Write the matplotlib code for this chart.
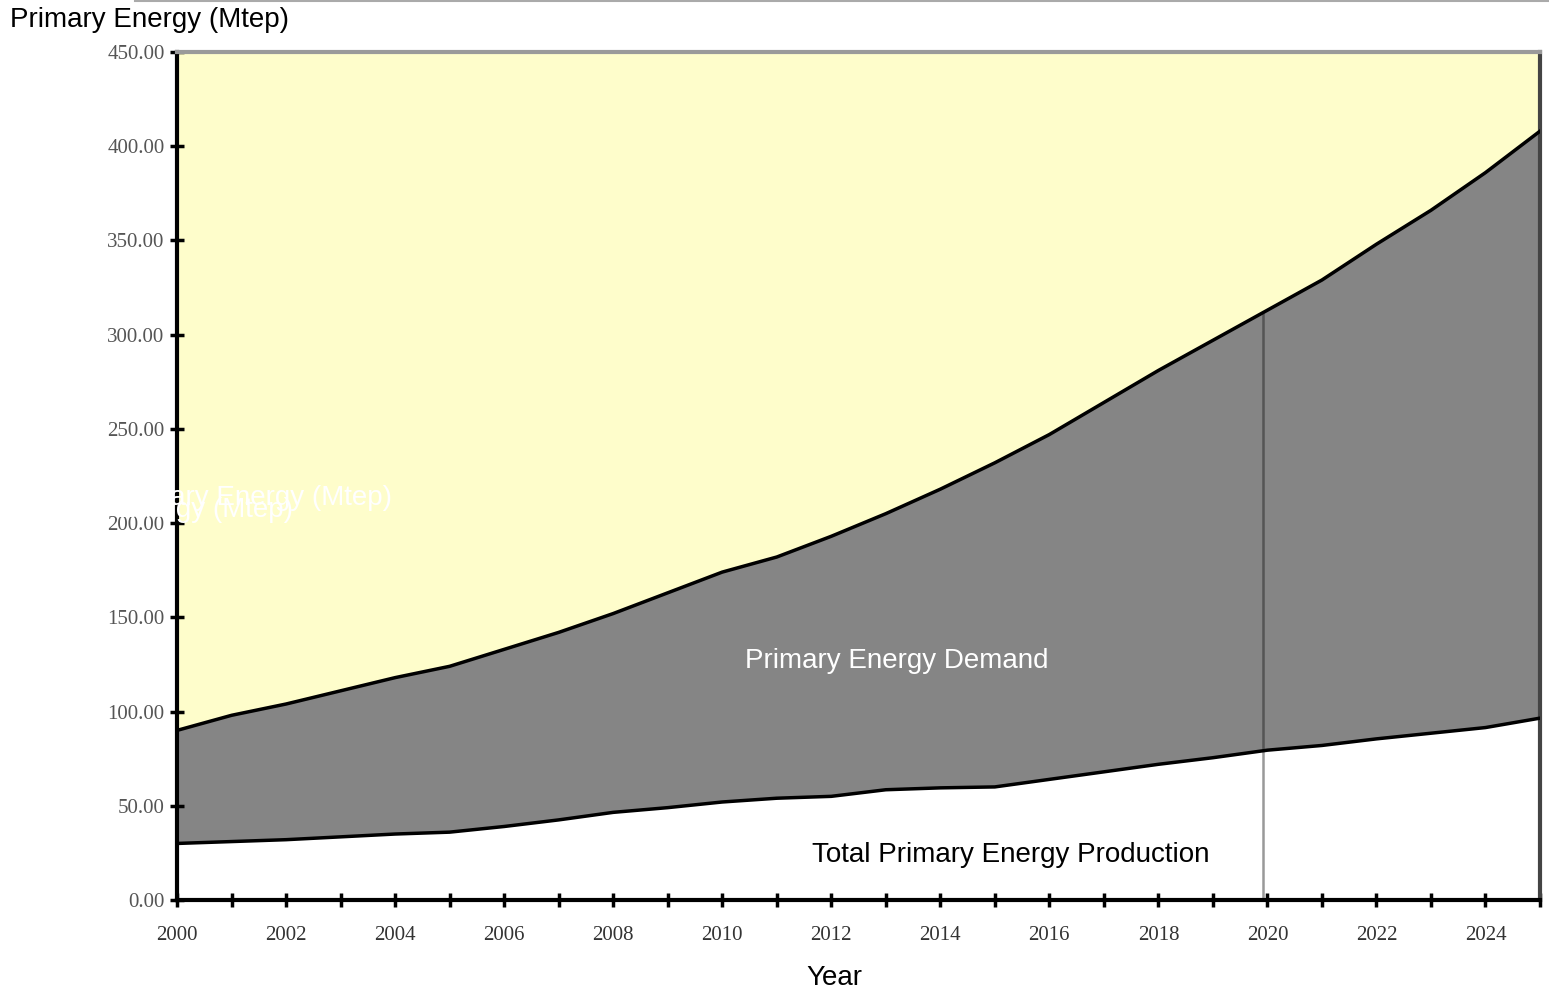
import numpy as np
import matplotlib.pyplot as plt
from matplotlib.lines import Line2D

# Values (Mtep)
years = list(range(2000, 2026))
demand = [90, 98, 104, 111, 118, 124, 133, 142, 152, 163,
          174, 182, 193, 205, 218, 232, 247, 264, 281, 297,
          313, 329, 348, 366, 386, 408]
production = [30, 31, 32, 33.5, 35, 36, 39, 42.5, 46.5, 49,
              52, 54, 55, 58.5, 59.5, 60, 64, 68, 72, 75.5,
              79.5, 82, 85.5, 88.5, 91.5, 96.5]
y_ticks = [0, 50, 100, 150, 200, 250, 300, 350, 400, 450]
x_labels = list(range(2000, 2026, 2))
split_year = 2019.92

YELLOW = "#FEFDCB"
GRAY = "#858585"
SANS = "Liberation Sans"

fig = plt.figure(figsize=(15.49, 9.96), dpi=100)
ax = fig.add_axes([0.1143, 0.0964, 0.8799, 0.8514])

x = np.array(years)
ax.set_facecolor(YELLOW)
ax.fill_between(x, production, demand, color=GRAY, lw=0, zorder=1)
ax.fill_between(x, 0, production, color="white", lw=0, zorder=1)
ax.plot(x, demand, color="black", lw=2.5, zorder=3)
ax.plot(x, production, color="black", lw=2.5, zorder=3)

d20 = np.interp(split_year, x, demand)
p20 = np.interp(split_year, x, production)
ax.vlines(split_year, p20, d20, color="#555555", lw=1.8, zorder=2)
ax.vlines(split_year, 0, p20, color="#999999", lw=1.8, zorder=2)

ax.set_xlim(2000, 2025)
ax.set_ylim(0, 450)
ax.set_yticks(y_ticks)
ax.set_yticklabels([f"{v:.2f}" for v in y_ticks])
ax.set_xticks(years)
ax.set_xticklabels([str(y) if y in x_labels else "" for y in years])

for side in ("left", "bottom"):
    ax.spines[side].set_linewidth(3)
    ax.spines[side].set_color("black")
ax.spines["top"].set_linewidth(3)
ax.spines["top"].set_color("#9a9a9a")
ax.spines["right"].set_linewidth(3)
ax.spines["right"].set_color("#444444")

ax.tick_params(axis="both", direction="inout", length=10, width=2.5, color="black")
ax.tick_params(axis="y", pad=4, labelsize=15, labelcolor="#555555")
ax.tick_params(axis="x", pad=14, labelsize=15, labelcolor="#333333")
for lab in ax.get_xticklabels() + ax.get_yticklabels():
    lab.set_fontfamily("Liberation Serif")

fig.text(834 / 1549, 1 - 978 / 996, "Year", fontsize=20, ha="center",
         va="center", family=SANS)

ax.text(2013.2, 127, "Primary Energy Demand", color="white", fontsize=20,
        ha="center", va="center", family=SANS, zorder=4)
ax.text(2015.3, 24, "Total Primary Energy Production", color="black", fontsize=20,
        ha="center", va="center", family=SANS, zorder=4)

# stray overlapping white labels from the original export
fig.text(392 / 1549, 1 - 498 / 996, "Primary Energy (Mtep)", color="white",
         fontsize=20, ha="right", va="center", family=SANS, zorder=5)
fig.text(293 / 1549, 1 - 510 / 996, "Primary Energy (Mtep)", color="white",
         fontsize=20, ha="right", va="center", family=SANS, zorder=5)

fig.text(10 / 1549, 1 - 20 / 996, "Primary Energy (Mtep)", fontsize=20,
         ha="left", va="center", family=SANS)
fig.add_artist(Line2D([135 / 1549, 1], [0.999, 0.999], color="#aaaaaa", lw=1.5))

fig.savefig("out.png", dpi=100)
